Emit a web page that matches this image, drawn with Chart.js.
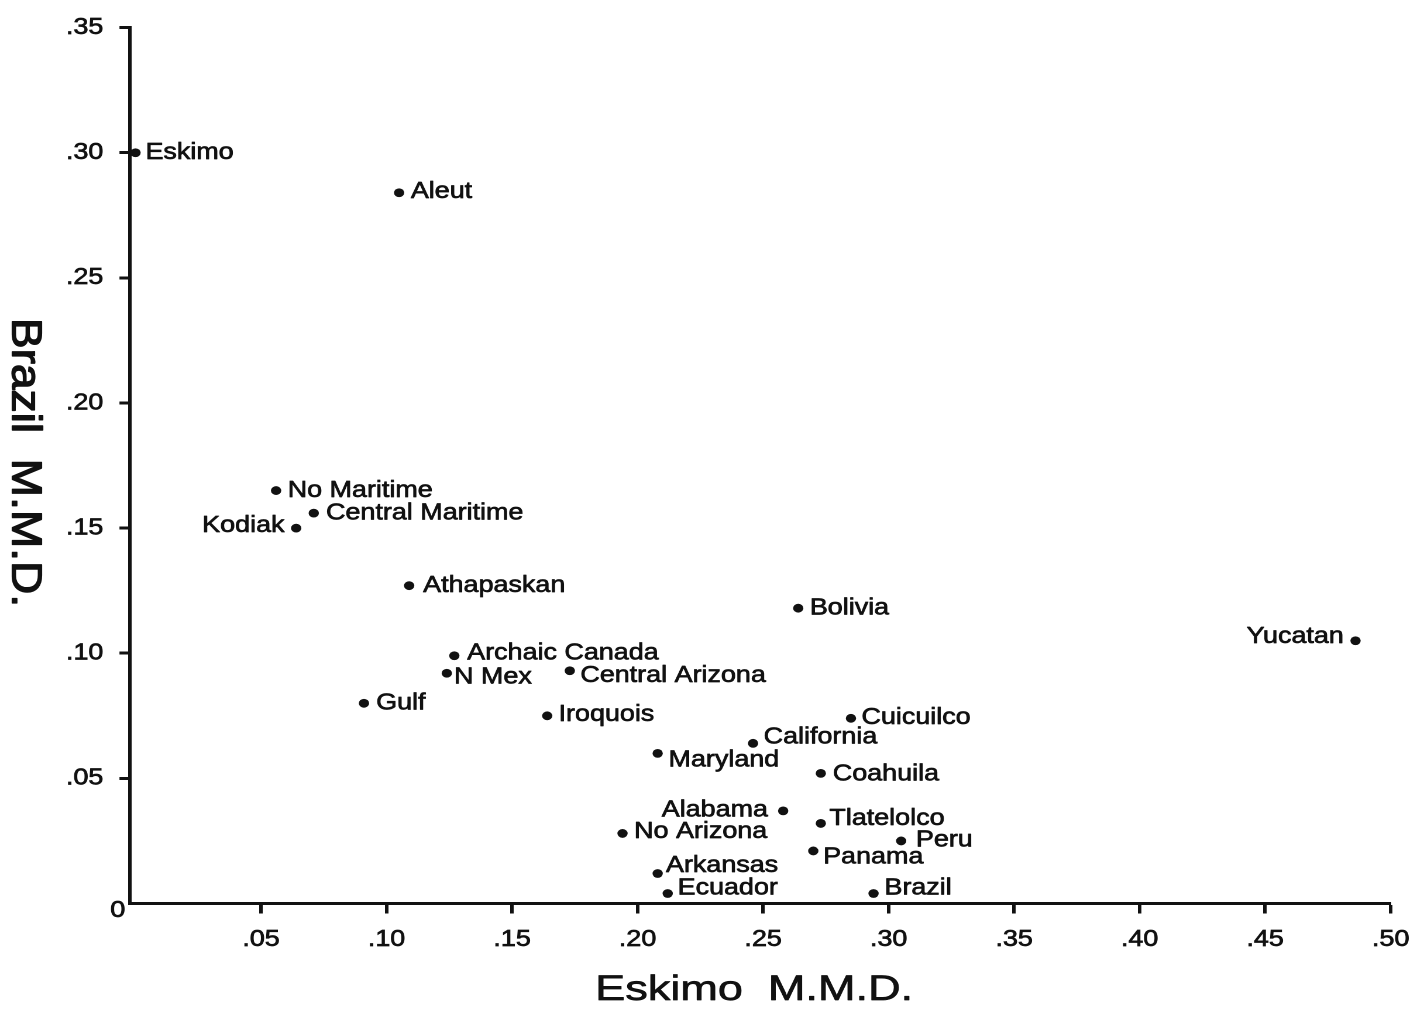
<!DOCTYPE html>
<html>
<head>
<meta charset="utf-8">
<title>Eskimo vs Brazil M.M.D.</title>
<script src="https://cdn.jsdelivr.net/npm/chart.js@4.4.1/dist/chart.umd.min.js"></script>
<style>
  html, body { margin: 0; padding: 0; background: #ffffff; }
  /* the original figure is a scan stretched sideways, so the canvas is drawn narrower and widened by CSS */
  #plot { display: block; width: 1424px; height: 1009px; }
</style>
</head>
<body>
<canvas id="plot" width="1217" height="1009" style="width:1424px;height:1009px;display:block"></canvas>
<script>
// sample names and their mean measure of divergence from Eskimo (x) and Brazil (y)
const groups = [
  'Eskimo', 'Aleut', 'No Maritime', 'Kodiak', 'Central Maritime', 'Athapaskan',
  'Bolivia', 'Yucatan', 'Archaic Canada', 'N Mex', 'Central Arizona', 'Gulf',
  'Iroquois', 'Cuicuilco', 'California', 'Maryland', 'Coahuila', 'Alabama',
  'Tlatelolco', 'No Arizona', 'Peru', 'Panama', 'Arkansas', 'Ecuador', 'Brazil'
];
const eskimoMMD = [
  0.000, 0.105, 0.056, 0.064, 0.071, 0.109,
  0.264, 0.486, 0.127, 0.124, 0.173, 0.091,
  0.164, 0.285, 0.246, 0.208, 0.273, 0.258,
  0.273, 0.194, 0.305, 0.270, 0.208, 0.212, 0.294
];
const brazilMMD = [
  0.300, 0.284, 0.165, 0.150, 0.156, 0.127,
  0.118, 0.105, 0.099, 0.092, 0.093, 0.080,
  0.075, 0.074, 0.064, 0.060, 0.052, 0.037,
  0.032, 0.028, 0.025, 0.021, 0.012, 0.004, 0.004
];
const xTicks = [0.05, 0.10, 0.15, 0.20, 0.25, 0.30, 0.35, 0.40, 0.45, 0.50];
const yTicks = [0.05, 0.10, 0.15, 0.20, 0.25, 0.30, 0.35];

// where each name sits next to its dot: [dx, dy]; negative dx puts the text on the left
const labelPlacement = {
  'Eskimo': [8.5, 0], 'Aleut': [10, -1], 'No Maritime': [9.9, 0], 'Kodiak': [-10, -2.5],
  'Central Maritime': [10.5, 0], 'Athapaskan': [12, 0], 'Bolivia': [9.9, 0],
  'Yucatan': [-10, -4], 'Archaic Canada': [11, -2.5], 'N Mex': [6.2, 4],
  'Central Arizona': [9, 5], 'Gulf': [10.4, 0], 'Iroquois': [9.7, -1],
  'Cuicuilco': [9, -0.6], 'California': [9, -6], 'Maryland': [9.3, 6.7],
  'Coahuila': [10.2, 1], 'Alabama': [-13, -0.7], 'Tlatelolco': [7.3, -4.8],
  'No Arizona': [9.9, -2], 'Peru': [12.6, -0.7], 'Panama': [8.4, 6],
  'Arkansas': [7.1, -7.7], 'Ecuador': [8.5, -5.3], 'Brazil': [9.3, -5.3]
};

const FONT = '"Liberation Sans", Arial, Helvetica, sans-serif';
const INK = '#111111';

Chart.defaults.font.family = FONT;
Chart.defaults.color = INK;

const fmtTick = v => v === 0 ? '0' : v.toFixed(2).replace(/^0/, '');

// scanned text is a bit heavier than regular weight, so fill + thin stroke
function inkText(ctx, text, x, y, weight) {
  ctx.lineWidth = weight;
  ctx.strokeStyle = INK;
  ctx.lineJoin = 'round';
  ctx.strokeText(text, x, y);
  ctx.fillText(text, x, y);
}

const pointLabels = {
  id: 'pointLabels',
  afterDatasetsDraw(chart) {
    const ctx = chart.ctx;
    const meta = chart.getDatasetMeta(0);
    ctx.save();
    ctx.font = '23px ' + FONT;
    ctx.fillStyle = INK;
    ctx.textBaseline = 'middle';
    meta.data.forEach((pt, i) => {
      const name = groups[i];
      const [dx, dy] = labelPlacement[name] || [10, 0];
      ctx.textAlign = dx < 0 ? 'right' : 'left';
      inkText(ctx, name, pt.x + dx, pt.y + dy, 0.7);
    });
    ctx.restore();
  }
};

const axisTitles = {
  id: 'axisTitles',
  afterDraw(chart) {
    const ctx = chart.ctx;
    const area = chart.chartArea;
    ctx.save();
    ctx.fillStyle = INK;

    // corner zero
    ctx.font = '23px ' + FONT;
    ctx.textAlign = 'right';
    ctx.textBaseline = 'middle';
    inkText(ctx, '0', area.left - 4, area.bottom + 7, 0.7);

    // x title
    ctx.save();
    ctx.font = '35px ' + FONT;
    ctx.textAlign = 'center';
    ctx.textBaseline = 'alphabetic';
    ctx.translate(644.5, 1000);
    ctx.scale(1.1, 1);
    inkText(ctx, 'Eskimo  M.M.D.', 0, 0, 0.7);
    ctx.restore();

    // y title, reads top to bottom
    ctx.save();
    ctx.font = '36px ' + FONT;
    ctx.textAlign = 'center';
    ctx.textBaseline = 'alphabetic';
    ctx.translate(10.3, 462.5);
    ctx.rotate(Math.PI / 2);
    ctx.scale(1.28, 1);
    inkText(ctx, 'Brazil  M.M.D.', 0, 0, 1.1);
    ctx.restore();

    ctx.restore();
  }
};

new Chart(document.getElementById('plot'), {
  type: 'scatter',
  data: {
    datasets: [{
      label: 'M.M.D.',
      data: groups.map((g, i) => ({ x: eskimoMMD[i], y: brazilMMD[i] })),
      pointRadius: 4.4,
      pointHoverRadius: 4.4,
      pointBackgroundColor: INK,
      pointBorderWidth: 0,
      showLine: false
    }]
  },
  options: {
    responsive: false,
    devicePixelRatio: 2,
    animation: false,
    layout: { padding: { top: 22.7, right: 28.5, bottom: 0, left: 0 } },
    plugins: {
      legend: { display: false },
      tooltip: { enabled: false }
    },
    scales: {
      x: {
        type: 'linear',
        min: -0.0022,
        max: 0.5,
        afterBuildTicks: scale => { scale.ticks = xTicks.map(v => ({ value: v })); },
        afterFit: scale => { scale.height = 105.5; },
        ticks: {
          callback: fmtTick,
          font: { size: 23 },
          color: INK,
          textStrokeColor: INK,
          textStrokeWidth: 0.7,
          padding: 12.5,
          maxRotation: 0,
          autoSkip: false
        },
        grid: {
          display: true,
          drawOnChartArea: false,
          drawTicks: true,
          tickLength: 10,
          tickWidth: 3,
          tickColor: INK
        },
        border: { display: true, color: INK, width: 3 }
      },
      y: {
        type: 'linear',
        min: 0,
        max: 0.35,
        afterBuildTicks: scale => { scale.ticks = yTicks.map(v => ({ value: v })); },
        afterFit: scale => { scale.width = 111.1; },
        ticks: {
          callback: fmtTick,
          font: { size: 23 },
          color: INK,
          textStrokeColor: INK,
          textStrokeWidth: 0.7,
          padding: 13.8,
          autoSkip: false
        },
        grid: {
          display: true,
          drawOnChartArea: false,
          drawTicks: true,
          tickLength: 9,
          tickWidth: 3,
          tickColor: INK
        },
        border: { display: true, color: INK, width: 3 }
      }
    }
  },
  plugins: [pointLabels, axisTitles]
});
</script>
</body>
</html>
